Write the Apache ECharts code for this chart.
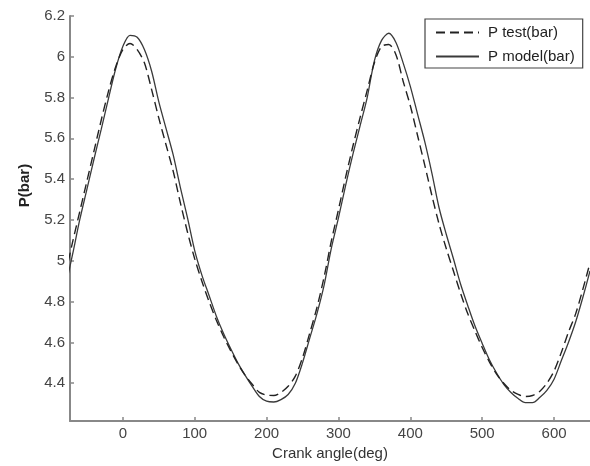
<!DOCTYPE html>
<html>
<head>
<meta charset="utf-8">
<script src="https://cdn.jsdelivr.net/npm/echarts@6/dist/echarts.min.js"></script>
<style>html,body{margin:0;padding:0;background:#fff;}#c{width:590px;height:466px;}</style>
</head>
<body>
<div id="c"></div>
<script>
const angles = [-80,-70,-60,-50,-40,-30,-20,-10,0,10,20,30,40,50,60,70,80,90,100,110,120,130,140,150,160,170,180,190,200,210,220,230,240,250,260,270,280,290,300,310,320,330,340,350,360,370,380,390,400,410,420,430,440,450,460,470,480,490,500,510,520,530,540,550,560,570,580,590,600,610,620,630,640,650];
const pModel = [4.87,5.03,5.20,5.35,5.50,5.645,5.795,5.94,6.05,6.105,6.095,6.035,5.93,5.78,5.65,5.52,5.36,5.21,5.05,4.93,4.83,4.73,4.645,4.57,4.50,4.44,4.385,4.335,4.312,4.308,4.32,4.345,4.40,4.50,4.62,4.74,4.88,5.06,5.21,5.37,5.52,5.66,5.80,5.98,6.08,6.115,6.07,5.97,5.855,5.72,5.585,5.43,5.26,5.13,5.01,4.885,4.78,4.68,4.595,4.515,4.45,4.395,4.355,4.325,4.305,4.305,4.33,4.365,4.42,4.51,4.60,4.70,4.82,4.95];
const pTest = [4.93,5.09,5.24,5.39,5.54,5.69,5.83,5.95,6.035,6.065,6.035,5.97,5.84,5.70,5.57,5.44,5.285,5.14,5.01,4.90,4.80,4.71,4.63,4.56,4.495,4.44,4.395,4.355,4.342,4.34,4.355,4.385,4.435,4.525,4.645,4.77,4.92,5.095,5.25,5.41,5.56,5.70,5.835,5.97,6.05,6.06,6.01,5.88,5.76,5.615,5.47,5.32,5.18,5.06,4.95,4.84,4.74,4.655,4.575,4.505,4.445,4.40,4.365,4.345,4.335,4.34,4.36,4.40,4.46,4.55,4.65,4.74,4.86,4.99];
const xTicks = [0, 100, 200, 300, 400, 500, 600];
const yTicks = [4.4, 4.6, 4.8, 5, 5.2, 5.4, 5.6, 5.8, 6, 6.2];
const seriesNames = ['P test(bar)', 'P model(bar)'];
const xName = 'Crank angle(deg)';
const yName = 'P(bar)';

const FONT = 'Arial, "Liberation Sans", sans-serif';
const chart = echarts.init(document.getElementById('c'), null, {renderer: 'canvas'});
const pairs = arr => angles.map((a, i) => [a, arr[i]]);

chart.setOption({
  animation: false,
  backgroundColor: '#fff',
  grid: {left: 70, top: 15.9, width: 521.7, height: 405.1, containLabel: false},
  xAxis: {
    type: 'value', min: -73.5, max: 650,
    name: xName, nameLocation: 'middle', nameGap: 21,
    nameTextStyle: {fontSize: 15, color: '#333', fontFamily: FONT},
    axisLine: {onZero: false, lineStyle: {color: '#888', width: 2}},
    axisTick: {inside: true, length: 4, customValues: xTicks, lineStyle: {color: '#888', width: 1.5}},
    splitLine: {show: false},
    axisLabel: {
      fontSize: 15, color: '#444', fontFamily: FONT, margin: 5, customValues: xTicks,
      formatter: v => String(Math.round(v))
    }
  },
  yAxis: {
    type: 'value', min: 4.215, max: 6.2,
    axisLine: {show: true, onZero: false, lineStyle: {color: '#888', width: 2}},
    axisTick: {show: true, inside: true, length: 4, customValues: yTicks, lineStyle: {color: '#888', width: 1.5}},
    splitLine: {show: false},
    axisLabel: {
      fontSize: 15, color: '#444', fontFamily: FONT, margin: 5, customValues: yTicks,
      formatter: v => String(Number(v.toFixed(1)))
    }
  },
  legend: {
    orient: 'vertical', left: 425, top: 19,
    data: seriesNames,
    borderColor: '#444', borderWidth: 1.2, padding: [6, 8, 4, 10],
    itemWidth: 43, itemHeight: 14, itemGap: 9,
    itemStyle: {opacity: 0},
    textStyle: {fontSize: 15, color: '#222', fontFamily: FONT, padding: [0, 0, 0, 4]}
  },
  graphic: [{
    type: 'text', x: 24.5, y: 185.5, rotation: Math.PI / 2,
    style: {text: yName, font: 'bold 15px ' + FONT, fill: '#222', align: 'center', verticalAlign: 'middle'}
  }],
  series: [
    {
      name: seriesNames[0], type: 'line', data: pairs(pTest), symbol: 'none', clip: true, smooth: 0.3,
      lineStyle: {color: '#222', width: 1.4, type: [9, 5]}, itemStyle: {color: '#222'}, z: 3
    },
    {
      name: seriesNames[1], type: 'line', data: pairs(pModel), symbol: 'none', clip: true, smooth: 0.3,
      lineStyle: {color: '#3a3a3a', width: 1.3, type: 'solid'}, itemStyle: {color: '#3a3a3a'}, z: 2
    }
  ]
});
</script>
</body>
</html>
